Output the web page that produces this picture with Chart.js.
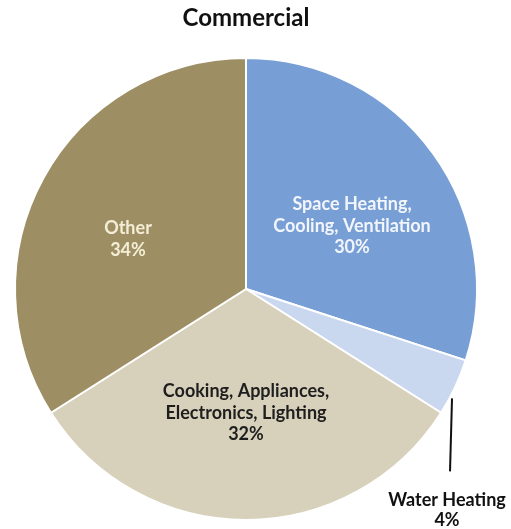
<!DOCTYPE html>
<html>
<head>
<meta charset="utf-8">
<script src="https://cdn.jsdelivr.net/npm/chart.js@4/dist/chart.umd.min.js"></script>
<style>
  html, body { margin: 0; padding: 0; background: #ffffff; }
  #wrap { width: 511px; height: 529px; position: relative; }
</style>
</head>
<body>
<div id="wrap"><canvas id="c" width="511" height="529"></canvas></div>
<script>
const title = 'Commercial';
const categories = [
  ['Space Heating,', 'Cooling, Ventilation'],
  ['Water Heating'],
  ['Cooking, Appliances,', 'Electronics, Lighting'],
  ['Other']
];
const values = [30, 4, 32, 34];
const sliceColors = ['#779ed5', '#c9d8ef', '#d7d0ba', '#9d8e64'];
const labelColors = ['#f2f5fb', '#111111', '#1e1e1e', '#f4eed6'];

const FONT = 'Lato, "Open Sans", "DejaVu Sans", sans-serif';

const labelPlugin = {
  id: 'sliceLabels',
  afterDatasetsDraw(chart) {
    const ctx = chart.ctx;
    const meta = chart.getDatasetMeta(0);
    ctx.save();
    ctx.textAlign = 'center';
    ctx.textBaseline = 'middle';
    ctx.font = 'bold 18px ' + FONT;
    const lh = 21.5;
    meta.data.forEach((arc, i) => {
      const p = arc.getProps(['x', 'y', 'startAngle', 'endAngle', 'outerRadius'], true);
      const mid = (p.startAngle + p.endAngle) / 2;
      const lines = categories[i].concat([values[i] + '%']);
      ctx.fillStyle = labelColors[i];
      if (i === 1) {
        // outside label with leader line
        const ex = p.x + p.outerRadius * Math.cos(mid);
        const ey = p.y + p.outerRadius * Math.sin(mid);
        const x0 = ex - 3, y0 = ey + 11;
        const x1 = ex - 5, y1 = y0 + 73;
        ctx.strokeStyle = '#111111';
        ctx.lineWidth = 2;
        ctx.beginPath();
        ctx.moveTo(x0, y0);
        ctx.lineTo(x1, y1);
        ctx.stroke();
        const ly = y1 + 29;
        lines.forEach((t, k) => ctx.fillText(t, x1 - 3, ly + k * 20));
        return;
      }
      let cx, cy;
      if (i === 0) { cx = p.x + 106; cy = p.y - 63; }
      if (i === 2) { cx = p.x; cy = p.y + 124; }
      if (i === 3) { cx = p.x - 118; cy = p.y - 50; }
      const n = lines.length;
      lines.forEach((t, k) => ctx.fillText(t, cx, cy + (k - (n - 1) / 2) * lh));
    });
    ctx.restore();
  }
};

new Chart(document.getElementById('c'), {
  type: 'pie',
  data: {
    labels: categories.map(c => c.join(' ')),
    datasets: [{
      data: values,
      backgroundColor: sliceColors,
      borderColor: '#ffffff',
      borderWidth: 2
    }]
  },
  options: {
    responsive: false,
    animation: false,
    layout: { padding: { top: 0, left: 14, right: 33, bottom: 8 } },
    plugins: {
      legend: { display: false },
      tooltip: { enabled: false },
      title: {
        display: true,
        text: title,
        color: '#111111',
        font: { family: FONT, size: 24, weight: 'bold', lineHeight: 1.1 },
        padding: { top: 5, bottom: 25.6 }
      }
    }
  },
  plugins: [labelPlugin]
});
</script>
</body>
</html>
